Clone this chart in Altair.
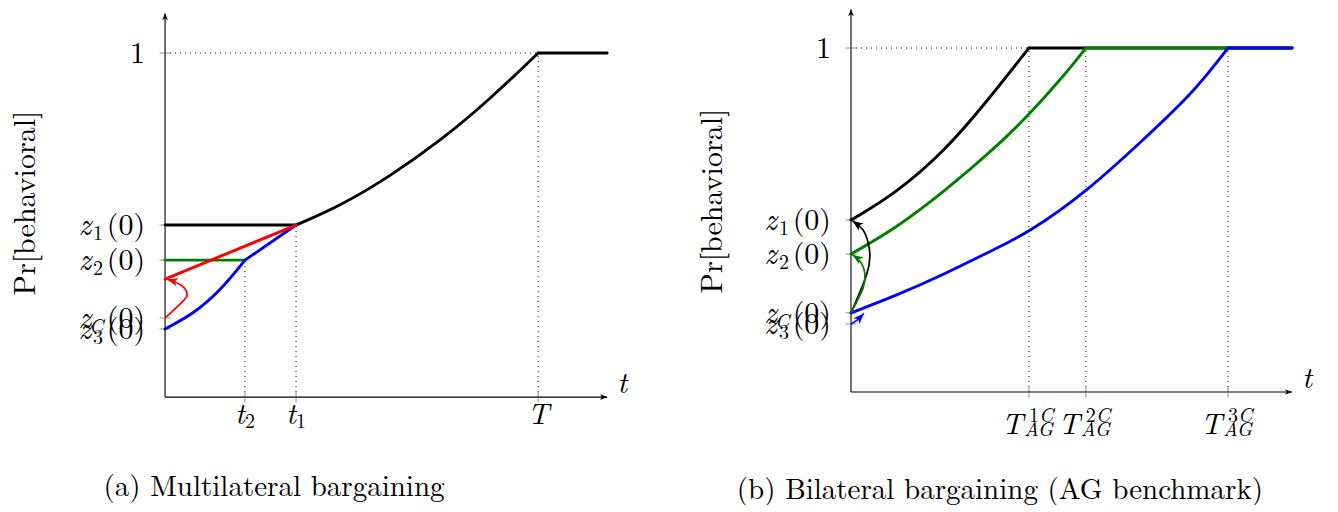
import math
import altair as alt
import pandas as pd

FONT = "Latin Modern Roman"
W, H = 660, 492

# ---------------- panel (a): multilateral bargaining ----------------
a_xdom = [-0.421, 1.348]
a_ydom = [-0.302, 1.128]
a_xmax, a_ymax = 1.185, 1.116

a_ytick = [1.0, 0.5, 0.398, 0.230, 0.198]
a_ytick_text = ["1", "(0)", "(0)", "(0)", "(0)"]
a_z_y = [0.5, 0.398, 0.230, 0.198]
a_z_sub = ["1", "2", "C", "3"]

a_xtick = [0.214, 0.351, 1.0]
a_xtick_main = ["t", "t", "T"]
a_xtick_sub = ["2", "1", ""]
a_dot_top = [0.398, 0.5, 1.0]

a_black_flat_x, a_black_flat_y = [0.0, 0.351], [0.5, 0.5]
a_black_curve_x = [0.351, 0.469, 0.603, 0.737, 0.871, 1.0]
a_black_curve_y = [0.5, 0.555, 0.642, 0.744, 0.866, 1.0]
a_black_top_x, a_black_top_y = [1.0, 1.185], [1.0, 1.0]
a_green_x, a_green_y = [0.0, 0.214], [0.398, 0.398]
a_blue_curve_x = [0.0, 0.075, 0.147, 0.214]
a_blue_curve_y = [0.198, 0.241, 0.308, 0.398]
a_blue_line_x, a_blue_line_y = [0.214, 0.351], [0.398, 0.5]
a_red_x, a_red_y = [0.0, 0.351], [0.343, 0.5]
a_red_arrow_x = [0.0, 0.048, 0.059, 0.046, 0.016, 0.006]
a_red_arrow_y = [0.230, 0.279, 0.299, 0.323, 0.339, 0.342]

a_ylabel_pos = (-0.372, 0.564)
a_caption_pos = (0.292, -0.288)
a_caption = "(a) Multilateral bargaining"

# ---------------- panel (b): bilateral bargaining ----------------
b_xdom = [-0.4854, 1.2653]
b_ydom = [-0.3169, 1.1134]
b_xmax, b_ymax = 1.170, 1.113

b_ytick = [1.0, 0.5, 0.401, 0.230, 0.198]
b_ytick_text = ["1", "(0)", "(0)", "(0)", "(0)"]
b_z_y = [0.5, 0.401, 0.230, 0.198]
b_z_sub = ["1", "2", "C", "3"]

b_xtick = [0.472, 0.623, 1.0]
b_xtick_sup = ["1", "2", "3"]
b_dot_top = [1.0, 1.0, 1.0]

b_black_x = [0.0, 0.117, 0.249, 0.355, 0.472]
b_black_y = [0.5, 0.576, 0.701, 0.837, 1.0]
b_green_x = [0.0, 0.117, 0.249, 0.382, 0.469, 0.560, 0.623]
b_green_y = [0.401, 0.474, 0.584, 0.709, 0.802, 0.913, 1.0]
b_blue_x = [0.0, 0.117, 0.249, 0.382, 0.469, 0.621, 0.780, 0.912, 1.0]
b_blue_y = [0.230, 0.279, 0.343, 0.416, 0.462, 0.578, 0.738, 0.875, 1.0]
b_black_arrow_x = [0.0, 0.042, 0.050, 0.037, 0.016, 0.004]
b_black_arrow_y = [0.230, 0.343, 0.401, 0.462, 0.488, 0.497]
b_green_arrow_x = [0.0, 0.032, 0.037, 0.029, 0.014, 0.004]
b_green_arrow_y = [0.230, 0.302, 0.343, 0.372, 0.391, 0.398]
b_blue_arrow_x = [0.0, 0.019, 0.034]
b_blue_arrow_y = [0.198, 0.211, 0.228]

b_ylabel_pos = (-0.366, 0.555)
b_caption_pos = (0.395, -0.311)
b_caption = "(b) Bilateral bargaining (AG benchmark)"

BLACK, GREEN, BLUE, RED = "#000000", "#008000", "#0000ff", "#ff0000"
ARROW = "M0,0 L0.6,1.5 L0,1.1 L-0.6,1.5 Z"


def segs(*pairs):
    rows = []
    for k, (xs, ys) in enumerate(pairs):
        for i, (x, y) in enumerate(zip(xs, ys)):
            rows.append({"x": x, "y": y, "seg": k, "o": i})
    return pd.DataFrame(rows)


def head_angle(xs, ys, sx, sy):
    dx = (xs[-1] - xs[-2]) * sx
    dy = -(ys[-1] - ys[-2]) * sy
    return math.degrees(math.atan2(dx, -dy)) % 360


def panel(xdom, ydom, xmax, ymax, ytick, ytick_text, z_y, z_sub,
          xtick, dot_top, curves, arrows, xlabel_layers, ylabel_pos,
          caption_pos, caption):
    xs = alt.Scale(domain=xdom, nice=False, zero=False)
    ys = alt.Scale(domain=ydom, nice=False, zero=False)
    sx = W / (xdom[1] - xdom[0])
    sy = H / (ydom[1] - ydom[0])
    X = lambda f="x": alt.X(f + ":Q", scale=xs, axis=None)
    Y = lambda f="y": alt.Y(f + ":Q", scale=ys, axis=None)

    layers = []
    dots = pd.DataFrame(
        [{"x": t, "x2": t, "y": 0.0, "y2": top} for t, top in zip(xtick, dot_top)]
        + [{"x": 0.0, "x2": 1.0, "y": 1.0, "y2": 1.0}]
    )
    layers.append(alt.Chart(dots).mark_rule(color="#000", strokeWidth=1, strokeDash=[1, 4])
                  .encode(x=X(), x2="x2:Q", y=Y(), y2="y2:Q"))
    axes = pd.DataFrame([{"x": 0.0, "x2": 0.0, "y": 0.0, "y2": ymax},
                         {"x": 0.0, "x2": xmax, "y": 0.0, "y2": 0.0}])
    layers.append(alt.Chart(axes).mark_rule(color="#000", strokeWidth=1.1)
                  .encode(x=X(), x2="x2:Q", y=Y(), y2="y2:Q"))
    ah = pd.DataFrame([{"x": 0.0, "y": ymax, "a": 0.0}, {"x": xmax, "y": 0.0, "a": 90.0}])
    layers.append(alt.Chart(ah).mark_point(shape=ARROW, filled=True, size=90, color="#000", opacity=1)
                  .encode(x=X(), y=Y(), angle=alt.Angle("a:Q", scale=None)))
    layers.append(alt.Chart(pd.DataFrame({"x": xtick, "y": [0.0] * len(xtick)}))
                  .mark_tick(orient="vertical", size=11, thickness=1.2, color="#777")
                  .encode(x=X(), y=Y()))
    layers.append(alt.Chart(pd.DataFrame({"x": [0.0] * len(ytick), "y": ytick}))
                  .mark_tick(orient="horizontal", size=11, thickness=1.2, color="#777")
                  .encode(x=X(), y=Y()))
    for color, pairs in curves:
        layers.append(alt.Chart(segs(*pairs)).mark_line(color=color, strokeWidth=2.9,
                                                         interpolate="basis", strokeCap="round")
                      .encode(x=X(), y=Y(), detail="seg:N", order="o:Q"))
    for color, axs, ays in arrows:
        layers.append(alt.Chart(segs((axs, ays))).mark_line(color=color, strokeWidth=1.7,
                                                             interpolate="cardinal")
                      .encode(x=X(), y=Y(), detail="seg:N", order="o:Q"))
        hd = pd.DataFrame([{"x": axs[-1], "y": ays[-1], "a": head_angle(axs, ays, sx, sy)}])
        layers.append(alt.Chart(hd).mark_point(shape=ARROW, filled=True, size=200, color=color, opacity=1)
                      .encode(x=X(), y=Y(), angle=alt.Angle("a:Q", scale=None)))
    txt = dict(font=FONT, baseline="alphabetic", color="#000")
    layers.append(alt.Chart(pd.DataFrame({"x": [0.0] * len(ytick), "y": ytick, "t": ytick_text}))
                  .mark_text(align="right", dx=-20, dy=10, fontSize=30, **txt)
                  .encode(x=X(), y=Y(), text="t:N"))
    layers.append(alt.Chart(pd.DataFrame({"x": [0.0] * len(z_y), "y": z_y, "t": ["z"] * len(z_y)}))
                  .mark_text(align="right", dx=-74, dy=10, fontSize=31, fontStyle="italic", **txt)
                  .encode(x=X(), y=Y(), text="t:N"))
    num = [(y, s) for y, s in zip(z_y, z_sub) if s.isdigit()]
    let = [(y, s) for y, s in zip(z_y, z_sub) if not s.isdigit()]
    layers.append(alt.Chart(pd.DataFrame({"x": [0.0] * len(num), "y": [n[0] for n in num], "t": [n[1] for n in num]}))
                  .mark_text(align="left", dx=-72, dy=15, fontSize=20, **txt)
                  .encode(x=X(), y=Y(), text="t:N"))
    layers.append(alt.Chart(pd.DataFrame({"x": [0.0] * len(let), "y": [n[0] for n in let], "t": [n[1] for n in let]}))
                  .mark_text(align="left", dx=-76, dy=15, fontSize=20, fontStyle="italic", **txt)
                  .encode(x=X(), y=Y(), text="t:N"))
    for rows, props in xlabel_layers:
        layers.append(alt.Chart(pd.DataFrame(rows)).mark_text(**txt, **props)
                      .encode(x=X(), y=Y(), text="t:N"))
    layers.append(alt.Chart(pd.DataFrame({"x": [xmax], "y": [0.0], "t": ["t"]}))
                  .mark_text(align="center", dx=15, dy=-4, fontSize=30, fontStyle="italic", **txt)
                  .encode(x=X(), y=Y(), text="t:N"))
    layers.append(alt.Chart(pd.DataFrame({"x": [ylabel_pos[0]], "y": [ylabel_pos[1]], "t": ["Pr[behavioral]"]}))
                  .mark_text(align="center", baseline="middle", angle=270, fontSize=30, font=FONT, color="#000")
                  .encode(x=X(), y=Y(), text="t:N"))
    layers.append(alt.Chart(pd.DataFrame({"x": [caption_pos[0]], "y": [caption_pos[1]], "t": [caption]}))
                  .mark_text(align="center", fontSize=29, **txt)
                  .encode(x=X(), y=Y(), text="t:N"))
    return alt.layer(*layers).properties(width=W, height=H)


a_sub_rows = [{"x": x, "y": 0.0, "t": m} for x, m, s in zip(a_xtick, a_xtick_main, a_xtick_sub) if s]
a_sub_rows2 = [{"x": x, "y": 0.0, "t": s} for x, m, s in zip(a_xtick, a_xtick_main, a_xtick_sub) if s]
a_plain_rows = [{"x": x, "y": 0.0, "t": m} for x, m, s in zip(a_xtick, a_xtick_main, a_xtick_sub) if not s]
a_xlabels = [
    (a_sub_rows, dict(align="right", dx=0, dy=27, fontSize=30, fontStyle="italic")),
    (a_sub_rows2, dict(align="left", dx=0, dy=31, fontSize=20)),
    (a_plain_rows, dict(align="center", dx=0, dy=27, fontSize=30, fontStyle="italic")),
]

b_xlabels = [
    ([{"x": x, "y": 0.0, "t": "T"} for x in b_xtick], dict(align="right", dx=-6, dy=42, fontSize=30, fontStyle="italic")),
    ([{"x": x, "y": 0.0, "t": s} for x, s in zip(b_xtick, b_xtick_sup)], dict(align="left", dx=0, dy=30, fontSize=20)),
    ([{"x": x, "y": 0.0, "t": "C"} for x in b_xtick], dict(align="left", dx=10, dy=30, fontSize=20, fontStyle="italic")),
    ([{"x": x, "y": 0.0, "t": "AG"} for x in b_xtick], dict(align="left", dx=-5, dy=44, fontSize=20, fontStyle="italic")),
]

left = panel(
    a_xdom, a_ydom, a_xmax, a_ymax, a_ytick, a_ytick_text, a_z_y, a_z_sub,
    a_xtick, a_dot_top,
    curves=[
        (BLACK, [(a_black_flat_x, a_black_flat_y), (a_black_curve_x, a_black_curve_y), (a_black_top_x, a_black_top_y)]),
        (GREEN, [(a_green_x, a_green_y)]),
        (BLUE, [(a_blue_curve_x, a_blue_curve_y), (a_blue_line_x, a_blue_line_y)]),
        (RED, [(a_red_x, a_red_y)]),
    ],
    arrows=[(RED, a_red_arrow_x, a_red_arrow_y)],
    xlabel_layers=a_xlabels, ylabel_pos=a_ylabel_pos,
    caption_pos=a_caption_pos, caption=a_caption,
)

right = panel(
    b_xdom, b_ydom, b_xmax, b_ymax, b_ytick, b_ytick_text, b_z_y, b_z_sub,
    b_xtick, b_dot_top,
    curves=[
        (BLACK, [(b_black_x, b_black_y), ([b_black_x[-1], b_xmax], [1.0, 1.0])]),
        (GREEN, [(b_green_x, b_green_y), ([b_green_x[-1], b_xmax], [1.0, 1.0])]),
        (BLUE, [(b_blue_x, b_blue_y), ([b_blue_x[-1], b_xmax], [1.0, 1.0])]),
    ],
    arrows=[(BLACK, b_black_arrow_x, b_black_arrow_y),
            (GREEN, b_green_arrow_x, b_green_arrow_y),
            (BLUE, b_blue_arrow_x, b_blue_arrow_y)],
    xlabel_layers=b_xlabels, ylabel_pos=b_ylabel_pos,
    caption_pos=b_caption_pos, caption=b_caption,
)

chart = alt.hconcat(left, right, spacing=0, bounds="flush").properties(padding=0).configure_view(stroke=None)
chart.save("out.html", embed_options={"renderer": "svg", "actions": False})
